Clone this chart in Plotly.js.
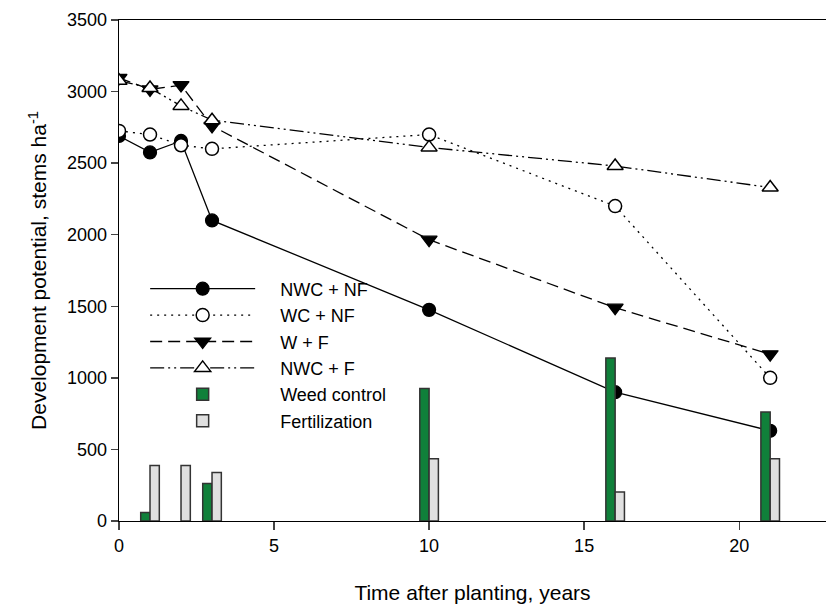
<!DOCTYPE html>
<html>
<head>
<meta charset="utf-8">
<script src="https://cdn.plot.ly/plotly-3.0.1.min.js"></script>
<style>html,body{margin:0;padding:0;background:#fff;}#chart{width:826px;height:607px;}</style>
</head>
<body>
<div id="chart"></div>
<script>
// Survey years (lines)
var years = [0, 1, 2, 3, 10, 16, 21];
var nwcNf = [2690, 2575, 2655, 2100, 1475, 900, 630];
var wcNf  = [2725, 2700, 2625, 2600, 2700, 2200, 1000];
var wF    = [3095, 3015, 3045, 2760, 1965, 1490, 1165];
var nwcF  = [3075, 3025, 2900, 2800, 2610, 2480, 2330];

// Treatment years (bars)
var barYears = [1, 2, 3, 10, 16, 21];
var weedControl   = [60, null, 262, 925, 1138, 762];
var fertilization = [388, 388, 338, 435, 203, 435];

var seriesNames = ["NWC + NF", "WC + NF", "W + F", "NWC + F", "Weed control", "Fertilization"];
var xTicks = [0, 5, 10, 15, 20];

var FONT = "Liberation Sans, Arial, sans-serif";
var PAD = "\u00a0\u00a0\u00a0\u00a0";

var traces = [
  {x: years, y: nwcNf, name: PAD + seriesNames[0], type: "scatter", mode: "lines+markers",
   line: {color: "#000", width: 1.3, dash: "solid"},
   marker: {symbol: "circle", size: 13, color: "#000", line: {color: "#000", width: 1.2}}},
  {x: years, y: wcNf, name: PAD + seriesNames[1], type: "scatter", mode: "lines+markers",
   line: {color: "#000", width: 1.3, dash: "2px,5px"},
   marker: {symbol: "circle", size: 13, color: "#fff", line: {color: "#000", width: 1.5}}},
  {x: years, y: wF, name: PAD + seriesNames[2], type: "scatter", mode: "lines+markers",
   line: {color: "#000", width: 1.3, dash: "12px,6px"},
   marker: {symbol: "triangle-down", size: 14, color: "#000", line: {color: "#000", width: 1.2}}},
  {x: years, y: nwcF, name: PAD + seriesNames[3], type: "scatter", mode: "lines+markers",
   line: {color: "#000", width: 1.3, dash: "14px,4px,2px,4px,2px,4px"},
   marker: {symbol: "triangle-up", size: 14, color: "#fff", line: {color: "#000", width: 1.5}}},
  {x: barYears, y: weedControl, name: PAD + seriesNames[4], type: "bar", width: 0.3, offset: -0.3,
   xaxis: "x", yaxis: "y2",
   marker: {color: "#10803a", line: {color: "#333", width: 1.5}}},
  {x: barYears, y: fertilization, name: PAD + seriesNames[5], type: "bar", width: 0.3, offset: 0,
   xaxis: "x", yaxis: "y2",
   marker: {color: "#e0e0e0", line: {color: "#333", width: 1.5}}}
];

var layout = {
  width: 826, height: 607,
  margin: {l: 119, r: 0, t: 20, b: 86},
  paper_bgcolor: "#fff", plot_bgcolor: "#fff",
  font: {family: FONT, size: 18, color: "#000"},
  showlegend: true,
  barmode: "overlay",
  xaxis: {
    range: [0, 22.8], tickvals: xTicks, ticks: "outside", ticklen: 8, tickwidth: 1.3,
    showline: true, linecolor: "#000", linewidth: 1.3, mirror: true,
    showgrid: false, zeroline: false,
    tickfont: {family: FONT, size: 18},
    title: {text: "Time after planting, years", font: {family: FONT, size: 21}, standoff: 30}
  },
  yaxis: {
    range: [0, 3500], dtick: 500, ticks: "outside", ticklen: 7, tickwidth: 1.3,
    showline: true, linecolor: "#000", linewidth: 1.3,
    showgrid: false, zeroline: false,
    tickfont: {family: FONT, size: 18},
    title: {text: "Development potential, stems ha<sup>-1</sup>", font: {family: FONT, size: 21}, standoff: 14}
  },
  yaxis2: {range: [0, 3500], overlaying: "y", visible: false, fixedrange: true},
  legend: {
    x: 0.037, y: 0.50, xanchor: "left", yanchor: "top",
    bgcolor: "rgba(0,0,0,0)", borderwidth: 0,
    itemwidth: 105, itemsizing: "trace",
    font: {family: FONT, size: 18}
  }
};

Plotly.newPlot("chart", traces, layout, {staticPlot: true, displayModeBar: false});
</script>
</body>
</html>
